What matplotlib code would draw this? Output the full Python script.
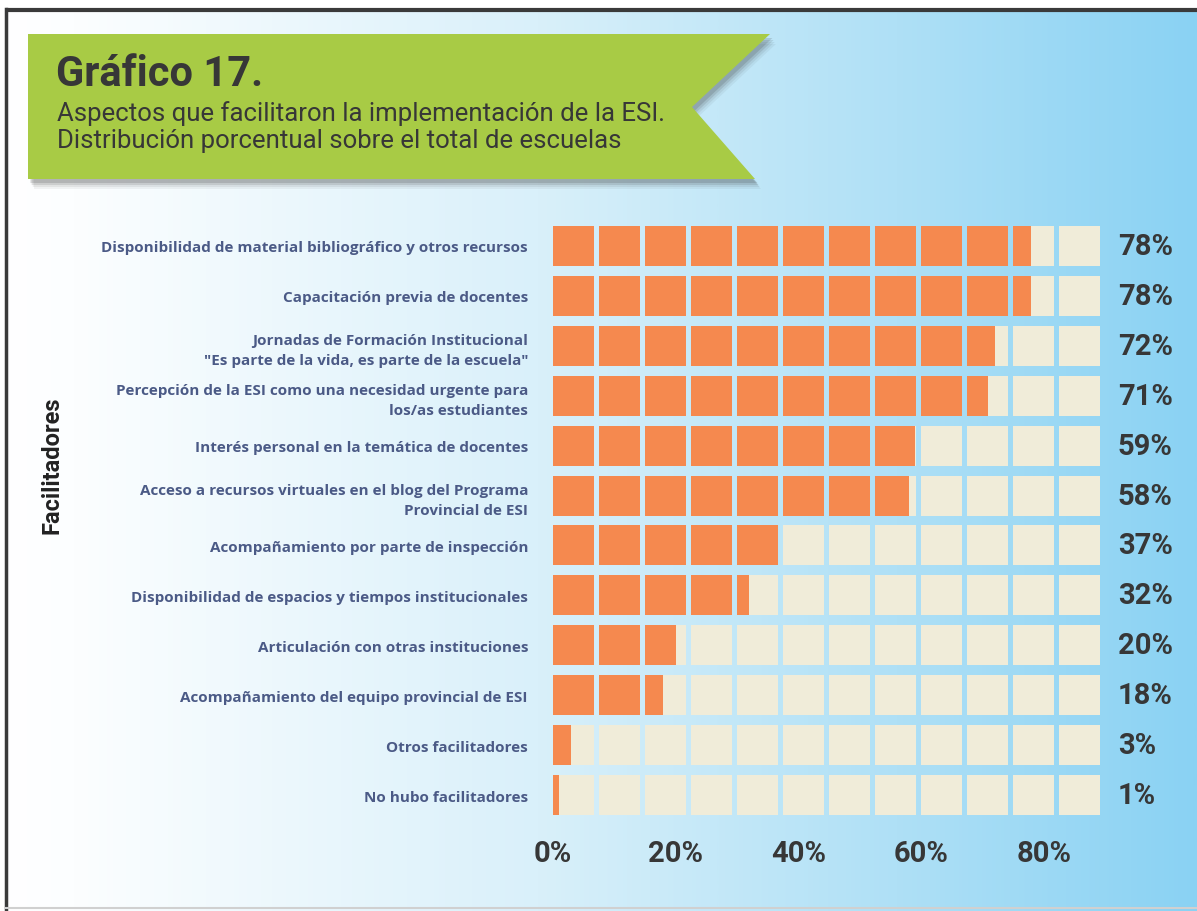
import matplotlib
matplotlib.use("Agg")
import matplotlib.pyplot as plt
import numpy as np
from matplotlib.colors import LinearSegmentedColormap
from matplotlib.patches import Polygon, Rectangle

# Data
categories = [
    "Disponibilidad de material bibliográfico y otros recursos",
    "Capacitación previa de docentes",
    "Jornadas de Formación Institucional\n\"Es parte de la vida, es parte de la escuela\"",
    "Percepción de la ESI como una necesidad urgente para\nlos/as estudiantes",
    "Interés personal en la temática de docentes",
    "Acceso a recursos virtuales en el blog del Programa\nProvincial de ESI",
    "Acompañamiento por parte de inspección",
    "Disponibilidad de espacios y tiempos institucionales",
    "Articulación con otras instituciones",
    "Acompañamiento del equipo provincial de ESI",
    "Otros facilitadores",
    "No hubo facilitadores",
]
values = [78, 78, 72, 71, 59, 58, 37, 32, 20, 18, 3, 1]
xticks = [0, 20, 40, 60, 80]
xtick_labels = ["0%", "20%", "40%", "60%", "80%"]

title = "Gráfico 17."
subtitle = "Aspectos que facilitaron la implementación de la ESI.\nDistribución porcentual sobre el total de escuelas"
ylabel = "Facilitadores"

ORANGE = "#F5894F"
BEIGE = "#F0ECD9"
LABEL_BLUE = "#4B5A86"
DARK = "#373737"
GREEN = "#A8CB45"

plt.rcParams['font.family'] = ['Roboto', 'DejaVu Sans']

W, H = 1197, 912
fig = plt.figure(figsize=(W / 100, H / 100), dpi=100)

# background with gradient, border and title banner (pixel coordinates)
bg = fig.add_axes([0, 0, 1, 1])
bg.set_xlim(0, W)
bg.set_ylim(H, 0)
bg.axis("off")
cmap = LinearSegmentedColormap.from_list(
    "bg", [(0, "#FFFFFF"), (0.06, "#FCFEFF"), (0.45, "#D9F0FA"),
           (0.75, "#AFE0F6"), (1, "#8AD2F3")])
grad = np.linspace(0, 1, 512).reshape(1, -1)
bg.imshow(grad, cmap=cmap, aspect="auto", extent=[0, W, H, 0], zorder=0)
bg.add_patch(Rectangle((0, 0), W, 10, color="white", zorder=1))
bg.add_patch(Rectangle((0, 0), 5, H, color="white", zorder=1))
bg.plot([6, W], [11, 11], color="#3a3a3a", lw=3, zorder=2, solid_capstyle="butt")
bg.plot([6, 6], [10, 910], color="#3a3a3a", lw=2.5, zorder=2)
bg.plot([6, W], [909, 909], color="#d0d0d0", lw=1.5, zorder=2)

banner = [(28, 35), (770, 35), (692, 108), (755, 180), (28, 180)]
for k, a in [(10, 0.06), (8, 0.08), (6, 0.12), (4, 0.16)]:
    sh = [(x + k * 0.6, y + k) for x, y in banner]
    bg.add_patch(Polygon(sh, closed=True, color="#333333", alpha=a, lw=0, zorder=3))
bg.add_patch(Polygon(banner, closed=True, color=GREEN, lw=0, zorder=4))
bg.text(56, 74, title, fontsize=30, fontweight="bold", color=DARK,
        va="center", ha="left", zorder=5)
bg.text(57, 127, subtitle, fontsize=18.5, color=DARK, va="center", ha="left",
        linespacing=1.15, zorder=5)
bg.text(52, 465, ylabel, fontsize=17, fontweight="bold", color="#222222",
        rotation=90, va="center", ha="center", zorder=5)

# chart
x0, x1 = 553, 1105
ytop, ybot = 222, 821
ax = fig.add_axes([x0 / W, (H - ybot) / H, (x1 - x0) / W, (ybot - ytop) / H])
ax.patch.set_alpha(0)
cell = 7.5
ncells = 12
gap = 0.8
ax.set_xlim(0, cell * ncells)
ax.set_ylim(len(categories) - 0.5, -0.5)
bar_h = 0.8
for i, v in enumerate(values):
    for j in range(ncells):
        cs = j * cell
        ce = (j + 1) * cell - gap
        ax.barh(i, ce - cs, left=cs, height=bar_h, color=BEIGE, lw=0)
        if v > cs:
            ax.barh(i, min(ce, v) - cs, left=cs, height=bar_h, color=ORANGE, lw=0)
    ax.text(cell * ncells + 2.1, i, f"{v}%", va="center", ha="left",
            fontsize=21, fontweight="bold", color=DARK, clip_on=False)

ax.set_yticks(range(len(categories)))
ax.set_yticklabels(categories, fontsize=11, fontweight="bold", color=LABEL_BLUE,
                   linespacing=1.55, family=['Open Sans', 'DejaVu Sans'])
ax.set_xticks(xticks)
ax.set_xticklabels(xtick_labels, fontsize=21, fontweight="bold", color=DARK)
ax.tick_params(axis="y", length=0, pad=18)
ax.tick_params(axis="x", length=0, pad=14)
for s in ax.spines.values():
    s.set_visible(False)

fig.savefig("out.png", dpi=100)
